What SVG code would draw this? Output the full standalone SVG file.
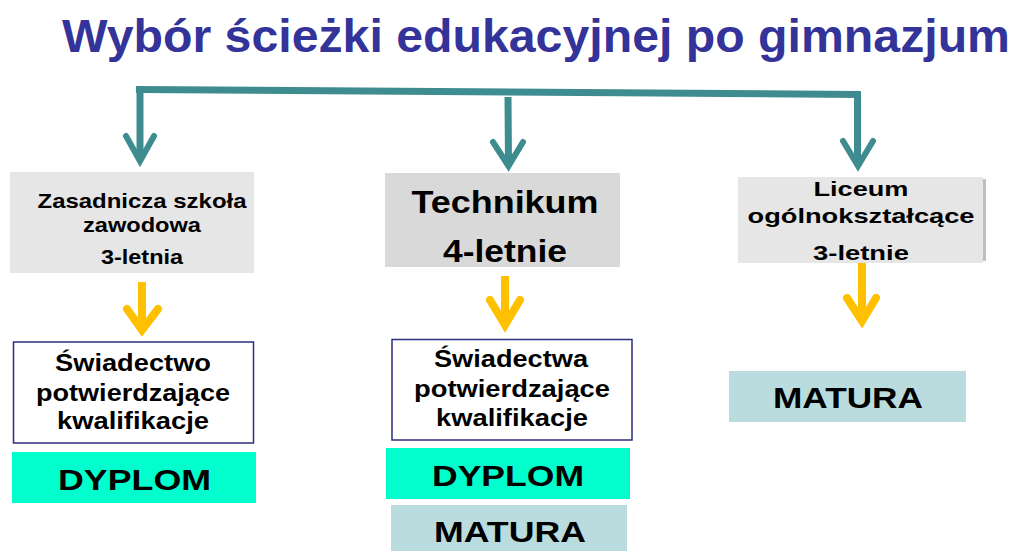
<svg xmlns="http://www.w3.org/2000/svg" width="1014" height="551" viewBox="0 0 1014 551">
<style>
text{font-family:"Liberation Sans",Arial,sans-serif;font-weight:bold;fill:#000;text-anchor:middle}
.title{fill:#333399;font-size:46px;text-anchor:start}
.gray1{fill:#e6e6e6}
.gray2{fill:#d9d9d9}
.cert{fill:#fff;stroke:#2e2e80;stroke-width:1.5}
.dyplom{fill:#00ffcc}
.matura{fill:#badcdf}
.t21{font-size:21px}
.t23{font-size:23px}
.t32{font-size:32px}
.t30{font-size:30px}
.teal{stroke:#3e8b90;fill:none;stroke-width:7}
.tealhead{stroke:#3e8b90;fill:none;stroke-width:6;stroke-linecap:round;stroke-linejoin:miter;stroke-miterlimit:10}
.yel{stroke:#ffc000;fill:none;stroke-width:8;stroke-linecap:butt}
.yelhead{stroke:#ffc000;fill:none;stroke-width:8;stroke-linecap:round;stroke-linejoin:miter;stroke-miterlimit:10}
</style>
<text class="title" x="62" y="52" textLength="948" lengthAdjust="spacingAndGlyphs">Wybór ścieżki edukacyjnej po gimnazjum</text>

<g id="connectors">
  <line class="teal" x1="136" y1="89.5" x2="861" y2="94.5"/>
  <line class="teal" x1="140" y1="89" x2="140" y2="160"/>
  <polyline class="tealhead" points="126,136 140,161 154,136"/>
  <line class="teal" x1="508" y1="97" x2="508.5" y2="165"/>
  <polyline class="tealhead" points="493,142 508.5,166 523,142"/>
  <line class="teal" x1="857.5" y1="94" x2="857.5" y2="165"/>
  <polyline class="tealhead" points="843,141 858,166 873,141"/>

  <line class="yel" x1="142" y1="282" x2="142" y2="328"/>
  <polyline class="yelhead" points="127,309 142,330 158,309"/>
  <line class="yel" x1="505" y1="276" x2="505" y2="324"/>
  <polyline class="yelhead" points="490,300 505,325 520,300"/>
  <line class="yel" x1="862" y1="263" x2="862" y2="320"/>
  <polyline class="yelhead" points="847,298 862,321 876,298"/>
</g>

<g id="zsz">
  <rect class="gray1" x="10" y="172" width="244" height="101"/>
  <text class="t21" x="142" y="208" textLength="209" lengthAdjust="spacingAndGlyphs">Zasadnicza szkoła</text>
  <text class="t21" x="142" y="232" textLength="118" lengthAdjust="spacingAndGlyphs">zawodowa</text>
  <text class="t21" x="142" y="264" textLength="82" lengthAdjust="spacingAndGlyphs">3-letnia</text>
</g>
<g id="technikum">
  <rect class="gray2" x="385" y="173" width="235" height="94"/>
  <text class="t32" x="505" y="213" textLength="187" lengthAdjust="spacingAndGlyphs">Technikum</text>
  <text class="t32" x="505" y="262" textLength="124" lengthAdjust="spacingAndGlyphs">4-letnie</text>
</g>
<g id="liceum">
  <rect fill="#bfbfbf" x="982" y="179" width="4" height="82"/>
  <rect class="gray1" x="738" y="177" width="245" height="86"/>
  <text class="t21" x="861" y="196" textLength="95" lengthAdjust="spacingAndGlyphs">Liceum</text>
  <text class="t21" x="861" y="223" textLength="227" lengthAdjust="spacingAndGlyphs">ogólnokształcące</text>
  <text class="t21" x="861" y="260" textLength="96" lengthAdjust="spacingAndGlyphs">3-letnie</text>
</g>

<g id="swiadectwo1">
  <rect class="cert" x="13.5" y="342" width="240" height="101"/>
  <text class="t23" x="133" y="371" textLength="156" lengthAdjust="spacingAndGlyphs">Świadectwo</text>
  <text class="t23" x="133" y="401" textLength="194" lengthAdjust="spacingAndGlyphs">potwierdzające</text>
  <text class="t23" x="133" y="429" textLength="152" lengthAdjust="spacingAndGlyphs">kwalifikacje</text>
</g>
<g id="dyplom1">
  <rect class="dyplom" x="12" y="452" width="244" height="51"/>
  <text class="t30" x="134.5" y="490" textLength="153" lengthAdjust="spacingAndGlyphs">DYPLOM</text>
</g>

<g id="swiadectwa2">
  <rect class="cert" x="392" y="339.5" width="240" height="100.5"/>
  <text class="t23" x="511" y="367" textLength="154" lengthAdjust="spacingAndGlyphs">Świadectwa</text>
  <text class="t23" x="512" y="397" textLength="196" lengthAdjust="spacingAndGlyphs">potwierdzające</text>
  <text class="t23" x="512" y="426" textLength="152" lengthAdjust="spacingAndGlyphs">kwalifikacje</text>
</g>
<g id="dyplom2">
  <rect class="dyplom" x="386" y="448" width="244" height="51"/>
  <text class="t30" x="508" y="486" textLength="152" lengthAdjust="spacingAndGlyphs">DYPLOM</text>
</g>
<g id="matura2">
  <rect class="matura" x="391" y="505" width="236" height="46"/>
  <text class="t30" x="510" y="542" textLength="152" lengthAdjust="spacingAndGlyphs">MATURA</text>
</g>

<g id="matura3">
  <rect class="matura" x="729" y="371" width="237" height="51"/>
  <text class="t30" x="848" y="408" textLength="150" lengthAdjust="spacingAndGlyphs">MATURA</text>
</g>
</svg>
